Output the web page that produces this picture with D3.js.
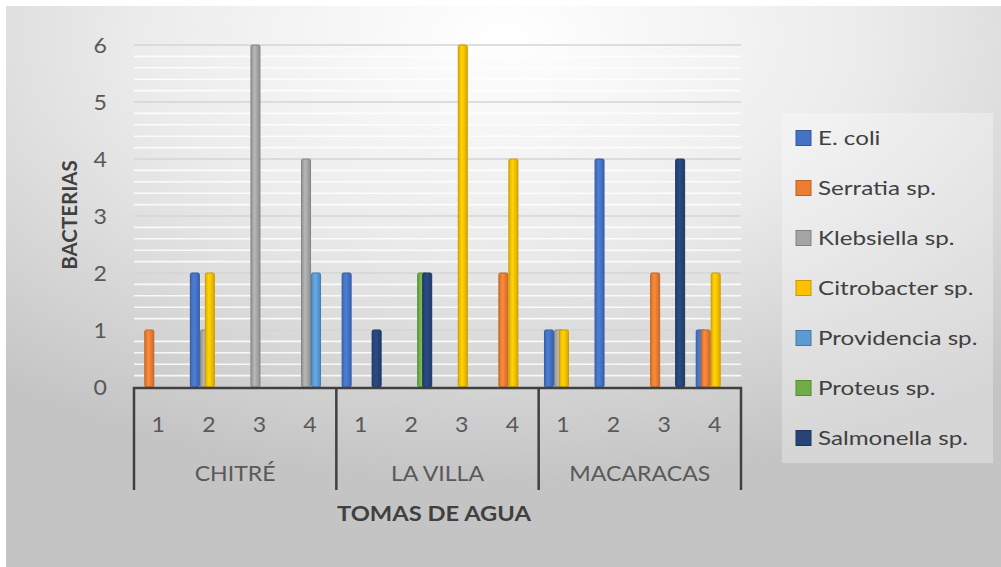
<!DOCTYPE html>
<html>
<head>
<meta charset="utf-8">
<script src="https://cdn.jsdelivr.net/npm/d3@7"></script>
<style>
  body { margin: 0; background: #fff; }
  text { font-family: "Lato", "Open Sans", sans-serif; }
</style>
</head>
<body>
<svg id="chart" width="1001" height="567"></svg>
<script>
// tomas de agua, grouped by place
const places = ["CHITRÉ", "LA VILLA", "MACARACAS"];
const tomas = ["1", "2", "3", "4"];

const seriesNames = ["E. coli", "Serratia sp.", "Klebsiella sp.", "Citrobacter sp.",
  "Providencia sp.", "Proteus sp.", "Salmonella sp."];
const seriesColors = ["#4472C4", "#ED7D31", "#A5A5A5", "#FFC000", "#5B9BD5", "#70AD47", "#264478"];

// values per toma: Chitré 1-4, La Villa 1-4, Macaracas 1-4
const ecoli       = [0, 2, 0, 0,  2, 0, 0, 0,  1, 4, 0, 1];
const serratia    = [1, 0, 0, 0,  0, 0, 0, 2,  0, 0, 2, 1];
const klebsiella  = [0, 1, 6, 4,  0, 0, 0, 0,  1, 0, 0, 0];
const citrobacter = [0, 2, 0, 0,  0, 0, 6, 4,  1, 0, 0, 2];
const providencia = [0, 0, 0, 2,  0, 0, 0, 0,  0, 0, 0, 0];
const proteus     = [0, 0, 0, 0,  0, 2, 0, 0,  0, 0, 0, 0];
const salmonella  = [0, 0, 0, 0,  1, 2, 0, 0,  0, 0, 4, 0];

const seriesValues = [ecoli, serratia, klebsiella, citrobacter, providencia, proteus, salmonella];
const yTicks = [0, 1, 2, 3, 4, 5, 6];

const svg = d3.select("#chart");
const defs = svg.append("defs");

// background gradient like the office chart style
const bg = defs.append("radialGradient").attr("id", "bg")
  .attr("cx", "50%").attr("cy", "5%").attr("r", "80%");
bg.append("stop").attr("offset", "0%").attr("stop-color", "#ffffff");
bg.append("stop").attr("offset", "45%").attr("stop-color", "#ececec");
bg.append("stop").attr("offset", "100%").attr("stop-color", "#c4c4c4");

svg.append("rect").attr("x", 6).attr("y", 6).attr("width", 995).attr("height", 561)
  .attr("fill", "url(#bg)");

// bar gradients
seriesColors.forEach((c, i) => {
  const g = defs.append("linearGradient").attr("id", "bar" + i)
    .attr("x1", "0%").attr("x2", "100%").attr("y1", "0%").attr("y2", "0%");
  g.append("stop").attr("offset", "0%").attr("stop-color", d3.color(c).darker(0.3));
  g.append("stop").attr("offset", "40%").attr("stop-color", d3.color(c).brighter(0.3));
  g.append("stop").attr("offset", "100%").attr("stop-color", d3.color(c).darker(0.4));
});

// text a bit stretched sideways, like the picture
function label(sel, x, y, sx) {
  return sel.attr("transform", (d, i) => {
    const xx = typeof x === "function" ? x(d, i) : x;
    const yy = typeof y === "function" ? y(d, i) : y;
    return `translate(${xx},${yy}) scale(${sx},1)`;
  }).attr("dy", "0.35em");
}

const plotLeft = 134, plotRight = 741, plotTop = 45, plotBottom = 387;
const cats = places.flatMap(p => tomas.map(t => p + "|" + t));

const x0 = d3.scaleBand().domain(cats).range([plotLeft, plotRight]);
const xPlace = d3.scaleBand().domain(places).range([plotLeft, plotRight]);
const x1 = d3.scaleBand().domain(d3.range(seriesNames.length)).range([-17.5, 17.5]);
const y = d3.scaleLinear().domain([0, 6]).range([plotBottom, plotTop]);
const barW = 9;

// minor gridlines
svg.append("g").selectAll("line")
  .data(d3.range(0, 6.01, 0.2).filter(v => Math.abs(v - Math.round(v)) > 0.01))
  .join("line")
  .attr("x1", plotLeft).attr("x2", plotRight)
  .attr("y1", d => y(d)).attr("y2", d => y(d))
  .attr("stroke", "#ffffff").attr("stroke-width", 1.6).attr("opacity", 0.85);

// major gridlines
svg.append("g").selectAll("line").data(yTicks.slice(1)).join("line")
  .attr("x1", plotLeft).attr("x2", plotRight)
  .attr("y1", d => y(d)).attr("y2", d => y(d))
  .attr("stroke", "#d4d4d4").attr("stroke-width", 1.3);

// y tick labels
label(svg.append("g").selectAll("text").data(yTicks).join("text"), 107, d => y(d), 1.05)
  .attr("text-anchor", "end").attr("font-size", 22).attr("fill", "#595959")
  .text(d => d);

// bars
const bars = svg.append("g");
seriesValues.forEach((vals, s) => {
  bars.append("g").selectAll("rect")
    .data(vals.map((v, i) => ({ v, cat: cats[i] })).filter(d => d.v > 0))
    .join("rect")
    .attr("x", d => x0(d.cat) + x0.bandwidth() / 2 + x1(s) + x1.bandwidth() / 2 - barW / 2)
    .attr("width", barW)
    .attr("y", d => y(d.v))
    .attr("height", d => y(0) - y(d.v))
    .attr("rx", 1.5)
    .attr("fill", "url(#bar" + s + ")")
    .attr("stroke", d3.color(seriesColors[s]).darker(0.6))
    .attr("stroke-width", 1);
});

// category axis
const axisColor = "#404040";
svg.append("line").attr("x1", plotLeft - 1).attr("x2", plotRight + 1)
  .attr("y1", plotBottom + 1).attr("y2", plotBottom + 1)
  .attr("stroke", axisColor).attr("stroke-width", 2.5);

const dividers = places.map(p => xPlace(p)).concat([plotRight]);
svg.append("g").selectAll("line").data(dividers).join("line")
  .attr("x1", d => d).attr("x2", d => d)
  .attr("y1", plotBottom).attr("y2", 490)
  .attr("stroke", axisColor).attr("stroke-width", 2.5);

label(svg.append("g").selectAll("text").data(cats).join("text"),
    d => x0(d) + x0.bandwidth() / 2 - 1, 424, 1.05)
  .attr("text-anchor", "middle").attr("font-size", 22).attr("fill", "#595959")
  .text(d => d.split("|")[1]);

label(svg.append("g").selectAll("text").data(places).join("text"),
    d => xPlace(d) + xPlace.bandwidth() / 2, 474, 1.1)
  .attr("text-anchor", "middle").attr("font-size", 21).attr("fill", "#595959")
  .text(d => d);

// axis titles
label(svg.append("text"), 434, 514, 1.13)
  .attr("text-anchor", "middle").attr("font-size", 21).attr("font-weight", "bold")
  .attr("fill", "#404040").text("TOMAS DE AGUA");

svg.append("text").attr("transform", "translate(70,215) rotate(-90)").attr("dy", "0.35em")
  .attr("text-anchor", "middle").attr("font-size", 20.5).attr("font-weight", "bold")
  .attr("fill", "#404040").text("BACTERIAS");

// legend
const legend = svg.append("g");
legend.append("rect").attr("x", 782).attr("y", 113).attr("width", 211).attr("height", 350)
  .attr("fill", "#ffffff").attr("opacity", 0.3);
const item = legend.selectAll("g").data(seriesNames).join("g")
  .attr("transform", (d, i) => `translate(796,${138 + i * 50})`);
item.append("rect").attr("x", 0).attr("y", -7.5).attr("width", 15).attr("height", 15)
  .attr("fill", (d, i) => seriesColors[i])
  .attr("stroke", (d, i) => d3.color(seriesColors[i]).darker(0.7)).attr("stroke-width", 1);
label(item.append("text"), 22, 0, 1.21)
  .attr("font-size", 20).attr("fill", "#404040").text(d => d);
</script>
</body>
</html>
